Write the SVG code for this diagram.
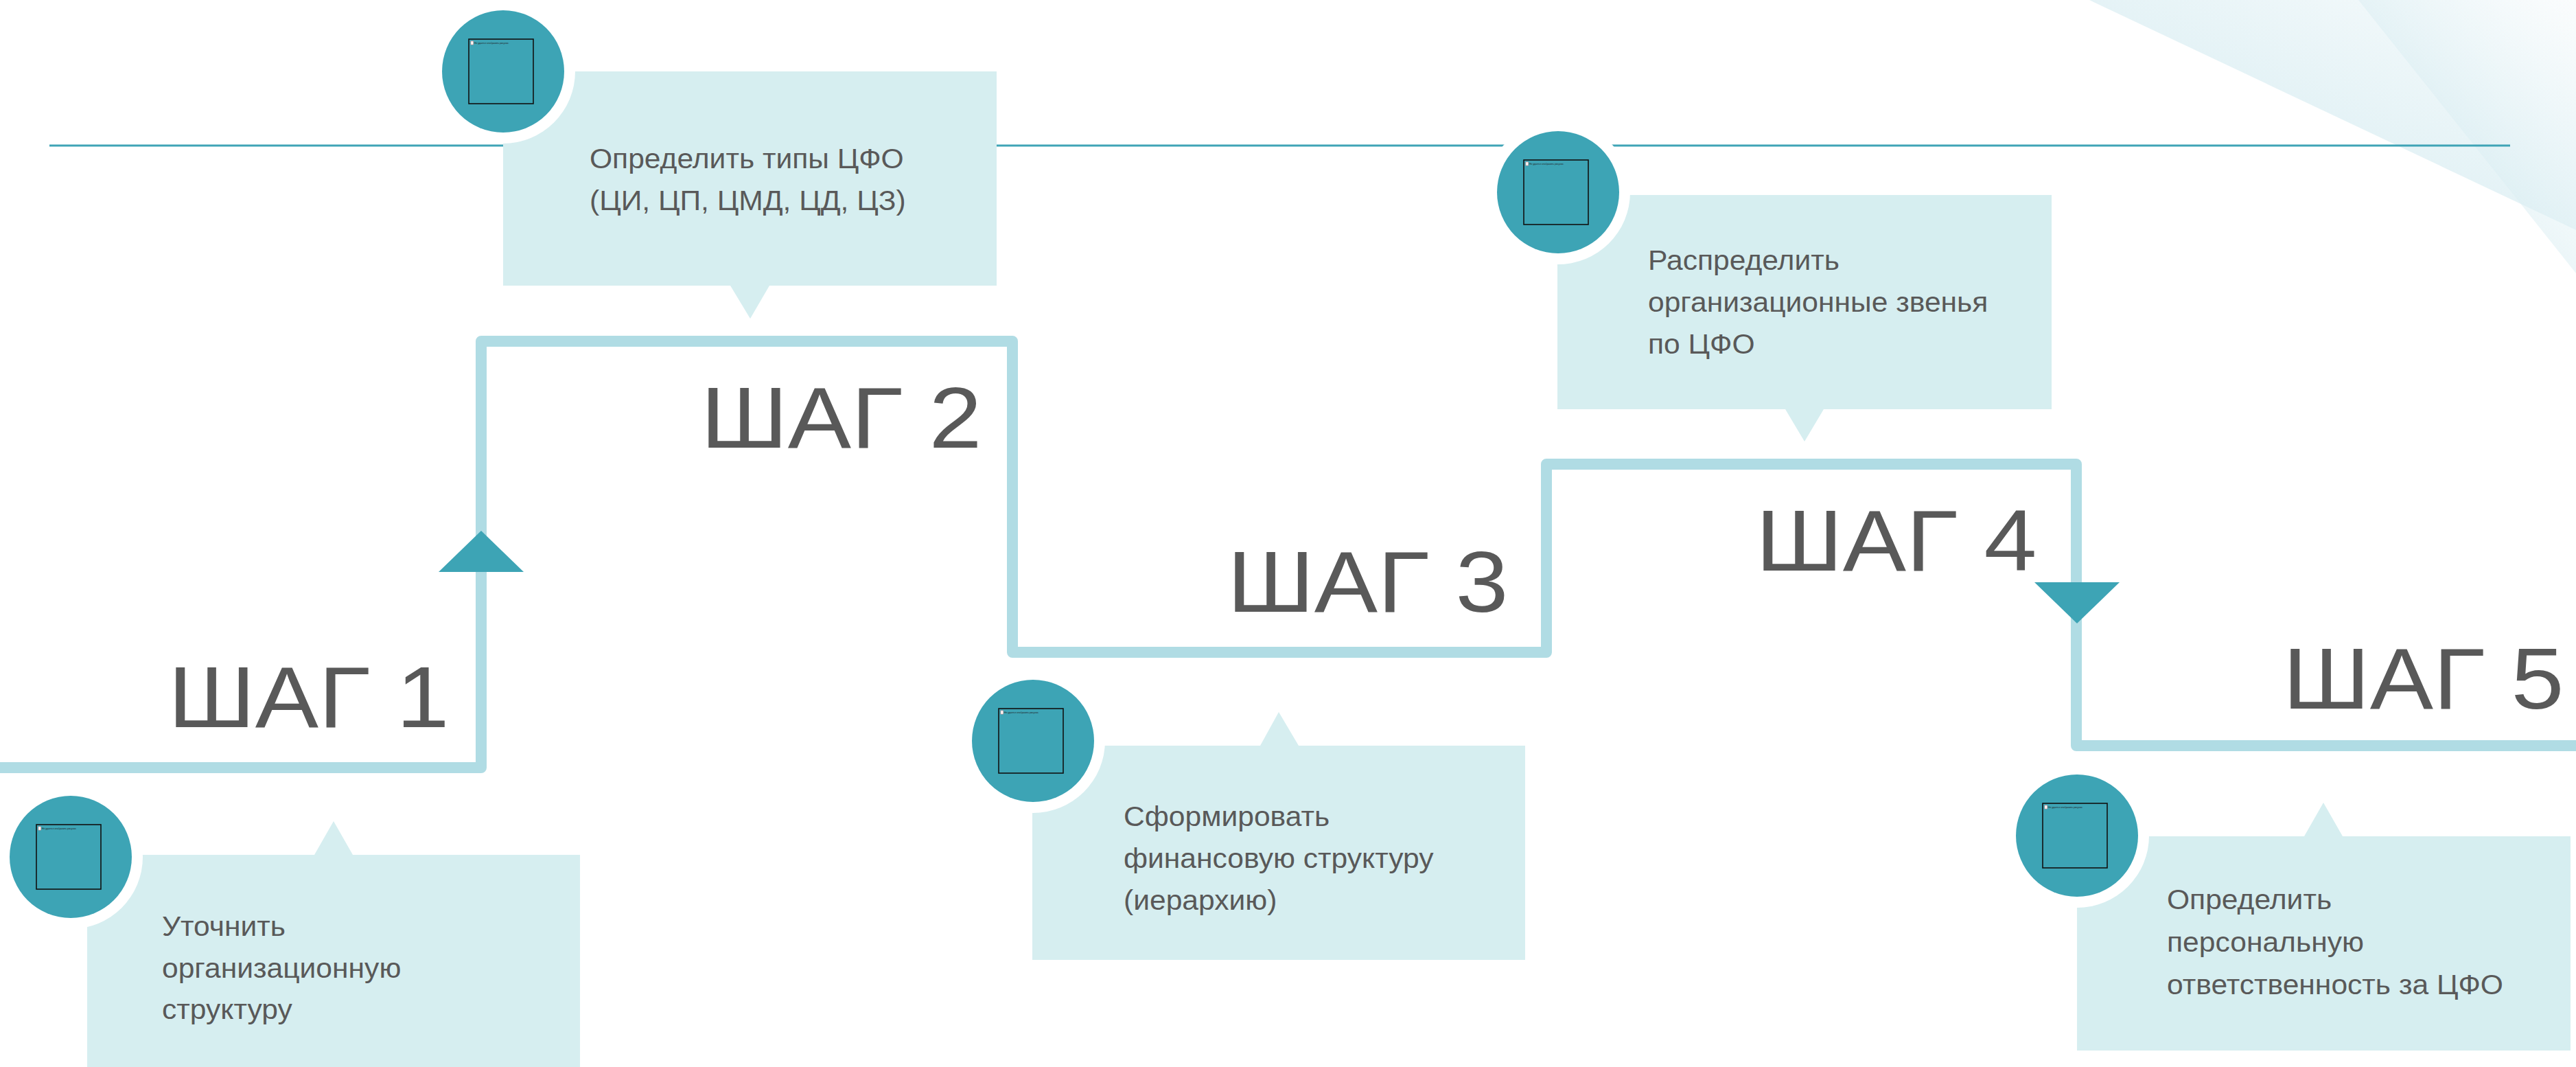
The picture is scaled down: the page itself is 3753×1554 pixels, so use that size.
<svg xmlns="http://www.w3.org/2000/svg" width="3753" height="1554" viewBox="0 0 3753 1554">
<style>
.box{fill:#d6eef0}
.halo{fill:#ffffff}
.disc{fill:#3da4b5}
.ico{fill:none;stroke:#111;stroke-width:1.6}
.tiny{font-family:"Liberation Sans",Arial,sans-serif;font-size:3.4px;fill:#222}
.txt{font-family:"Liberation Sans",Arial,sans-serif;font-size:40px;fill:#595959}
.step{font-family:"Liberation Sans",Arial,sans-serif;font-size:127px;fill:#595959}
.path{fill:none;stroke:#b0dce4;stroke-width:16;stroke-linejoin:round}
.arr{fill:#3da4b5}
</style>
<defs>
<linearGradient id="gA" x1="0" y1="1" x2="1" y2="0">
<stop offset="0" stop-color="#c8e6ed"/>
<stop offset="1" stop-color="#f8fbfc"/>
</linearGradient>
<linearGradient id="gB" x1="0" y1="1" x2="1" y2="0">
<stop offset="0" stop-color="#b9dee7" stop-opacity="0.9"/>
<stop offset="1" stop-color="#ffffff" stop-opacity="0.2"/>
</linearGradient>
<g id="icon">
<rect x="-50" y="-47" width="94" height="94" class="ico"/>
<rect x="-47" y="-44" width="3.5" height="5" fill="#fff" stroke="#e88" stroke-width="0.6"/>
<text x="-42" y="-40" class="tiny">Не удается отобразить рисунок.</text>
</g>
</defs>
<rect width="3753" height="1554" fill="#ffffff"/>
<g id="decoration">
<polygon points="3044,0 3753,0 3753,335" fill="url(#gA)" opacity="0.85"/>
<polygon points="3436,0 3753,0 3753,398" fill="url(#gB)"/>
</g>
<line id="topline" x1="72" y1="212" x2="3657" y2="212" stroke="#3fa4b6" stroke-width="3"/>
<g id="connectors">
<path class="path" d="M -10 1118 H 701 V 497 H 1475 V 950 H 2253 V 676 H 3025 V 1086 H 3763"/>
<polygon class="arr" points="701,773 763,833 639,833"/>
<polygon class="arr" points="2964,848 3088,848 3026,908"/>
</g>
<g id="step1">
<path class="box" d="M127 1245 H458 L486 1196 L514 1245 H845 V1560 H127 Z"/>
<circle class="halo" cx="103" cy="1248" r="105"/>
<circle class="disc" cx="103" cy="1248" r="89"/>
<use href="#icon" x="103" y="1248"/>
<g transform="matrix(1.065 0 0 1 -15.34 0)">
<text class="txt" x="236" y="1363">Уточнить</text>
<text class="txt" x="236" y="1424">организационную</text>
<text class="txt" x="236" y="1484">структуру</text>
</g>
<text class="step" transform="translate(245 1059) scale(1.09 1)">ШАГ 1</text>
</g>
<g id="step2">
<path class="box" d="M733 104 H1452 V416 H1121 L1093 464 L1064 416 H733 Z"/>
<circle class="halo" cx="733" cy="104" r="105"/>
<circle class="disc" cx="733" cy="104" r="89"/>
<use href="#icon" x="733" y="104"/>
<g transform="matrix(1.065 0 0 1 -55.835 0)">
<text class="txt" x="859" y="245">Определить типы ЦФО</text>
<text class="txt" x="859" y="306">(ЦИ, ЦП, ЦМД, ЦД, ЦЗ)</text>
</g>
<text class="step" transform="translate(1021 652) scale(1.09 1)">ШАГ 2</text>
</g>
<g id="step3">
<path class="box" d="M1504 1086 H1836 L1863 1037 L1892 1086 H2222 V1398 H1504 Z"/>
<circle class="halo" cx="1505" cy="1079" r="105"/>
<circle class="disc" cx="1505" cy="1079" r="89"/>
<use href="#icon" x="1505" y="1079"/>
<g transform="matrix(1.065 0 0 1 -106.405 0)">
<text class="txt" x="1637" y="1203">Сформировать</text>
<text class="txt" x="1637" y="1264">финансовую структуру</text>
<text class="txt" x="1637" y="1325">(иерархию)</text>
</g>
<text class="step" transform="translate(1788 891) scale(1.09 1)">ШАГ 3</text>
</g>
<g id="step4">
<path class="box" d="M2269 284 H2989 V596 H2657 L2629 643 L2601 596 H2269 Z"/>
<circle class="halo" cx="2270" cy="280" r="105"/>
<circle class="disc" cx="2270" cy="280" r="89"/>
<use href="#icon" x="2270" y="280"/>
<g transform="matrix(1.065 0 0 1 -156.065 0)">
<text class="txt" x="2401" y="393">Распределить</text>
<text class="txt" x="2401" y="454">организационные звенья</text>
<text class="txt" x="2401" y="515">по ЦФО</text>
</g>
<text class="step" transform="translate(2558 831) scale(1.09 1)">ШАГ 4</text>
</g>
<g id="step5">
<path class="box" d="M3026 1218 H3357 L3385 1169 L3413 1218 H3745 V1530 H3026 Z"/>
<circle class="halo" cx="3026" cy="1217" r="105"/>
<circle class="disc" cx="3026" cy="1217" r="89"/>
<use href="#icon" x="3026" y="1217"/>
<g transform="matrix(1.065 0 0 1 -205.205 0)">
<text class="txt" x="3157" y="1324">Определить</text>
<text class="txt" x="3157" y="1386">персональную</text>
<text class="txt" x="3157" y="1448">ответственность за ЦФО</text>
</g>
<text class="step" transform="translate(3326 1032) scale(1.09 1)">ШАГ 5</text>
</g>
</svg>
